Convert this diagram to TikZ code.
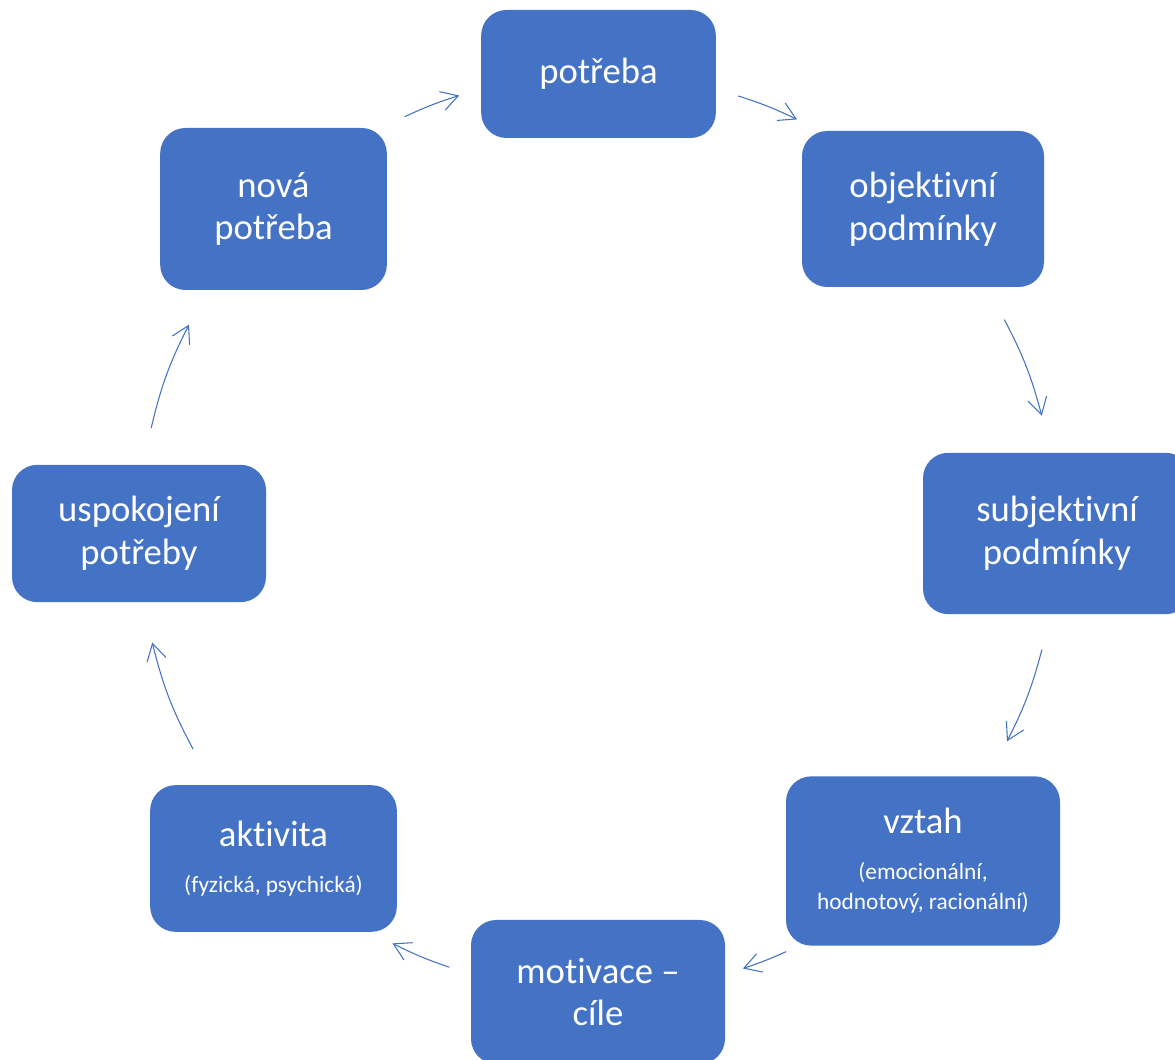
\documentclass[tikz,border=0pt]{standalone}
\usepackage{fontspec}
\setmainfont{Carlito}[Ligatures=NoCommon]
\usepackage{xcolor}
\usetikzlibrary{arrows.meta}

\definecolor{boxblue}{HTML}{4472C4}
\newcommand{\smalltxt}{\fontsize{17.5}{22.5}\selectfont}

\begin{document}
\begin{tikzpicture}[x=0.75pt, y=0.75pt,
    stage/.style={fill=boxblue, rounded corners=19pt, text=white, align=center,
        inner sep=0pt, font=\fontsize{27.5}{32}\selectfont},
    flow/.style={draw=boxblue, line width=0.8pt,
        -{Straight Barb[length=12.5pt, width=14.5pt]}}]
    \useasboundingbox (0,0) rectangle (1175,1060);

    % the cycle
    \node[stage, minimum width=176pt, minimum height=96pt] (potreba) at (598.5, 986) {potřeba};
    \node[stage, minimum width=181.5pt, minimum height=117pt] (objektivni) at (923, 851) {objektivní\\podmínky};
    \node[stage, minimum width=201pt, minimum height=121pt] (subjektivni) at (1057, 526.5) {subjektivní\\podmínky};
    \node[stage, minimum width=205.5pt, minimum height=127pt] (vztah) at (923, 199)
        {vztah\\[2pt]\smalltxt (emocionální,\\[-9pt]\smalltxt hodnotový, racionální)};
    \node[stage, minimum width=190.5pt, minimum height=108pt] (motivace) at (598, 68) {motivace –\\cíle};
    \node[stage, minimum width=185pt, minimum height=110pt] (aktivita) at (273.5, 201.5)
        {aktivita\\[2pt]\smalltxt (fyzická, psychická)};
    \node[stage, minimum width=190.5pt, minimum height=103pt] (uspokojeni) at (139, 526.5) {uspokojení\\potřeby};
    \node[stage, minimum width=170pt, minimum height=121.5pt] (nova) at (273.5, 851) {nová\\potřeba};

    % arrow ends on the circle round the middle
    \coordinate (mid) at (598, 527);
    \coordinate (a1) at ([shift={(114.9:459)}]mid);
    \coordinate (b1) at ([shift={(107.6:459)}]mid);
    \coordinate (a2) at ([shift={(72.2:459)}]mid);
    \coordinate (b2) at ([shift={(64.3:459)}]mid);
    \coordinate (a3) at ([shift={(27.7:459)}]mid);
    \coordinate (b3) at ([shift={(14.8:459)}]mid);
    \coordinate (a4) at ([shift={(-14.7:459)}]mid);
    \coordinate (b4) at ([shift={(-27:459)}]mid);
    \coordinate (a5) at ([shift={(-65.8:459)}]mid);
    \coordinate (b5) at ([shift={(-71.6:459)}]mid);
    \coordinate (a6) at ([shift={(-108.9:459)}]mid);
    \coordinate (b6) at ([shift={(-116.6:459)}]mid);
    \coordinate (a7) at ([shift={(-151.9:459)}]mid);
    \coordinate (b7) at ([shift={(-166.2:459)}]mid);
    \coordinate (a8) at ([shift={(166.8:459)}]mid);
    \coordinate (b8) at ([shift={(153:459)}]mid);

    \draw[flow] (a1) to[bend left=3.65] (b1); % nova-potreba
    \draw[flow] (a2) to[bend left=3.95] (b2); % potreba-objektivni
    \draw[flow] (a3) to[bend left=6.45] (b3); % objektivni-subjektivni
    \draw[flow] (a4) to[bend left=6.15] (b4); % subjektivni-vztah
    \draw[flow] (a5) to[bend left=2.9] (b5); % vztah-motivace
    \draw[flow] (a6) to[bend left=3.85] (b6); % motivace-aktivita
    \draw[flow] (a7) to[bend left=7.15] (b7); % aktivita-uspokojeni
    \draw[flow] (a8) to[bend left=6.9] (b8); % uspokojeni-nova
\end{tikzpicture}
\end{document}
